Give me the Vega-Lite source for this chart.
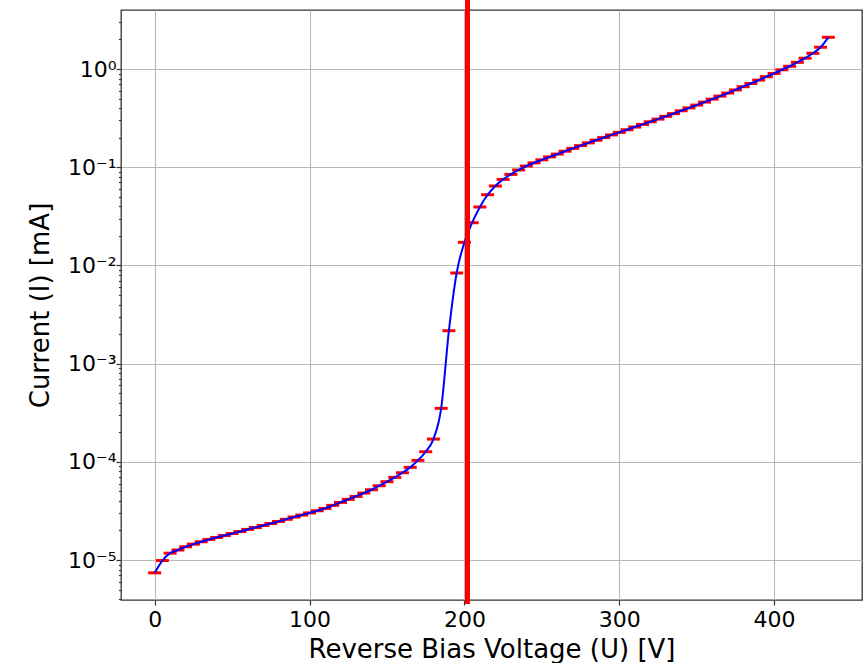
{
  "$schema": "https://vega.github.io/schema/vega-lite/v6.json",
  "autosize": {"type": "none"},
  "padding": {"left": 121, "top": 10, "right": 5, "bottom": 63},
  "width": 741,
  "height": 590,
  "background": "white",
  "config": {
    "font": "DejaVu Sans",
    "view": {"stroke": "#333333", "strokeWidth": 1.3},
    "axis": {
      "domain": false,
      "grid": true,
      "gridColor": "#b8b8b8",
      "gridWidth": 1.1,
      "tickColor": "#333333",
      "tickWidth": 1.2,
      "labelColor": "black",
      "titleColor": "black",
      "labelFont": "DejaVu Sans",
      "titleFont": "DejaVu Sans",
      "labelFontSize": 22,
      "titleFontSize": 26,
      "titleFontWeight": "normal"
    }
  },
  "datasets": {
    "iv": [
      {"V": 0, "I": 7.41e-6}, {"V": 5, "I": 9.89e-6}, {"V": 10, "I": 1.175e-5}, {"V": 15, "I": 1.265e-5},
      {"V": 20, "I": 1.365e-5}, {"V": 25, "I": 1.452e-5}, {"V": 30, "I": 1.535e-5}, {"V": 35, "I": 1.622e-5},
      {"V": 40, "I": 1.698e-5}, {"V": 45, "I": 1.778e-5}, {"V": 50, "I": 1.862e-5}, {"V": 55, "I": 1.95e-5},
      {"V": 60, "I": 2.051e-5}, {"V": 65, "I": 2.148e-5}, {"V": 70, "I": 2.249e-5}, {"V": 75, "I": 2.355e-5},
      {"V": 80, "I": 2.472e-5}, {"V": 85, "I": 2.6e-5}, {"V": 90, "I": 2.742e-5}, {"V": 95, "I": 2.871e-5},
      {"V": 100, "I": 3.02e-5}, {"V": 105, "I": 3.177e-5}, {"V": 110, "I": 3.357e-5}, {"V": 115, "I": 3.606e-5},
      {"V": 120, "I": 3.864e-5}, {"V": 125, "I": 4.15e-5}, {"V": 130, "I": 4.446e-5}, {"V": 135, "I": 4.808e-5},
      {"V": 140, "I": 5.2e-5}, {"V": 145, "I": 5.715e-5}, {"V": 150, "I": 6.281e-5}, {"V": 155, "I": 6.95e-5},
      {"V": 160, "I": 7.745e-5}, {"V": 165, "I": 8.79e-5}, {"V": 170, "I": 1.035e-4}, {"V": 175, "I": 1.268e-4},
      {"V": 180, "I": 1.706e-4}, {"V": 185, "I": 3.508e-4}, {"V": 190, "I": 2.163e-3}, {"V": 195, "I": 8.375e-3},
      {"V": 200, "I": 1.718e-2}, {"V": 205, "I": 2.723e-2}, {"V": 210, "I": 3.936e-2}, {"V": 215, "I": 5.248e-2},
      {"V": 220, "I": 6.442e-2}, {"V": 225, "I": 7.516e-2}, {"V": 230, "I": 8.453e-2}, {"V": 235, "I": 9.376e-2},
      {"V": 240, "I": 0.1028}, {"V": 245, "I": 0.1109}, {"V": 250, "I": 0.1189}, {"V": 255, "I": 0.1274},
      {"V": 260, "I": 0.1361}, {"V": 265, "I": 0.1455}, {"V": 270, "I": 0.1556}, {"V": 275, "I": 0.166},
      {"V": 280, "I": 0.177}, {"V": 285, "I": 0.1884}, {"V": 290, "I": 0.2004}, {"V": 295, "I": 0.2133},
      {"V": 300, "I": 0.2265}, {"V": 305, "I": 0.241}, {"V": 310, "I": 0.2564}, {"V": 315, "I": 0.2729},
      {"V": 320, "I": 0.2904}, {"V": 325, "I": 0.309}, {"V": 330, "I": 0.3296}, {"V": 335, "I": 0.3516},
      {"V": 340, "I": 0.3758}, {"V": 345, "I": 0.4018}, {"V": 350, "I": 0.4295}, {"V": 355, "I": 0.4603},
      {"V": 360, "I": 0.4932}, {"V": 365, "I": 0.5297}, {"V": 370, "I": 0.5689}, {"V": 375, "I": 0.6124},
      {"V": 380, "I": 0.6607}, {"V": 385, "I": 0.7129}, {"V": 390, "I": 0.7709}, {"V": 395, "I": 0.8356},
      {"V": 400, "I": 0.9016}, {"V": 405, "I": 0.9817}, {"V": 410, "I": 1.0666}, {"V": 415, "I": 1.1695},
      {"V": 420, "I": 1.2882}, {"V": 425, "I": 1.4454}, {"V": 430, "I": 1.6672}, {"V": 435, "I": 2.1038}
    ],
    "breakdown": [{"V": 202, "I": 3.56e-6, "I_top": 10}]
  },
  "encoding": {
    "x": {
      "field": "V", "type": "quantitative",
      "scale": {"domain": [-21.75, 456.75], "nice": false, "zero": false},
      "axis": {
        "title": "Reverse Bias Voltage (U) [V]",
        "values": [0, 100, 200, 300, 400],
        "tickSize": 5,
        "labelPadding": 4,
        "titlePadding": 6
      }
    },
    "y": {
      "field": "I", "type": "quantitative",
      "scale": {"type": "log", "domain": [3.92e-6, 3.99], "nice": false},
      "axis": {
        "title": "Current (I) [mA]",
        "values": [4e-6, 5e-6, 6e-6, 7e-6, 8e-6, 9e-6,
                   1e-5, 2e-5, 3e-5, 4e-5, 5e-5, 6e-5, 7e-5, 8e-5, 9e-5,
                   1e-4, 2e-4, 3e-4, 4e-4, 5e-4, 6e-4, 7e-4, 8e-4, 9e-4,
                   1e-3, 2e-3, 3e-3, 4e-3, 5e-3, 6e-3, 7e-3, 8e-3, 9e-3,
                   1e-2, 2e-2, 3e-2, 4e-2, 5e-2, 6e-2, 7e-2, 8e-2, 9e-2,
                   0.1, 0.2, 0.3, 0.4, 0.5, 0.6, 0.7, 0.8, 0.9,
                   1, 2, 3],
        "labelExpr": "abs(log(datum.value)/LN10 - round(log(datum.value)/LN10)) > 0.01 ? '' : (round(log(datum.value)/LN10) == 0 ? '10⁰' : round(log(datum.value)/LN10) == -1 ? '10⁻¹' : round(log(datum.value)/LN10) == -2 ? '10⁻²' : round(log(datum.value)/LN10) == -3 ? '10⁻³' : round(log(datum.value)/LN10) == -4 ? '10⁻⁴' : '10⁻⁵')",
        "tickSize": {"condition": {"test": "abs(log(datum.value)/LN10 - round(log(datum.value)/LN10)) < 0.01", "value": 5}, "value": 2.5},
        "gridOpacity": {"condition": {"test": "abs(log(datum.value)/LN10 - round(log(datum.value)/LN10)) < 0.01", "value": 1}, "value": 0},
        "labelPadding": 0,
        "titlePadding": 14,
        "labelOverlap": false
      }
    }
  },
  "layer": [
    {
      "data": {"name": "iv"},
      "mark": {"type": "tick", "orient": "horizontal", "color": "#ff0000", "size": 13, "thickness": 3, "opacity": 1}
    },
    {
      "data": {"name": "iv"},
      "mark": {"type": "line", "color": "#0000ff", "strokeWidth": 2, "interpolate": "monotone"}
    },
    {
      "data": {"name": "breakdown"},
      "mark": {"type": "rule", "color": "#ff0000", "strokeWidth": 5, "clip": false},
      "encoding": {
        "y2": {"field": "I_top"}
      }
    }
  ]
}
